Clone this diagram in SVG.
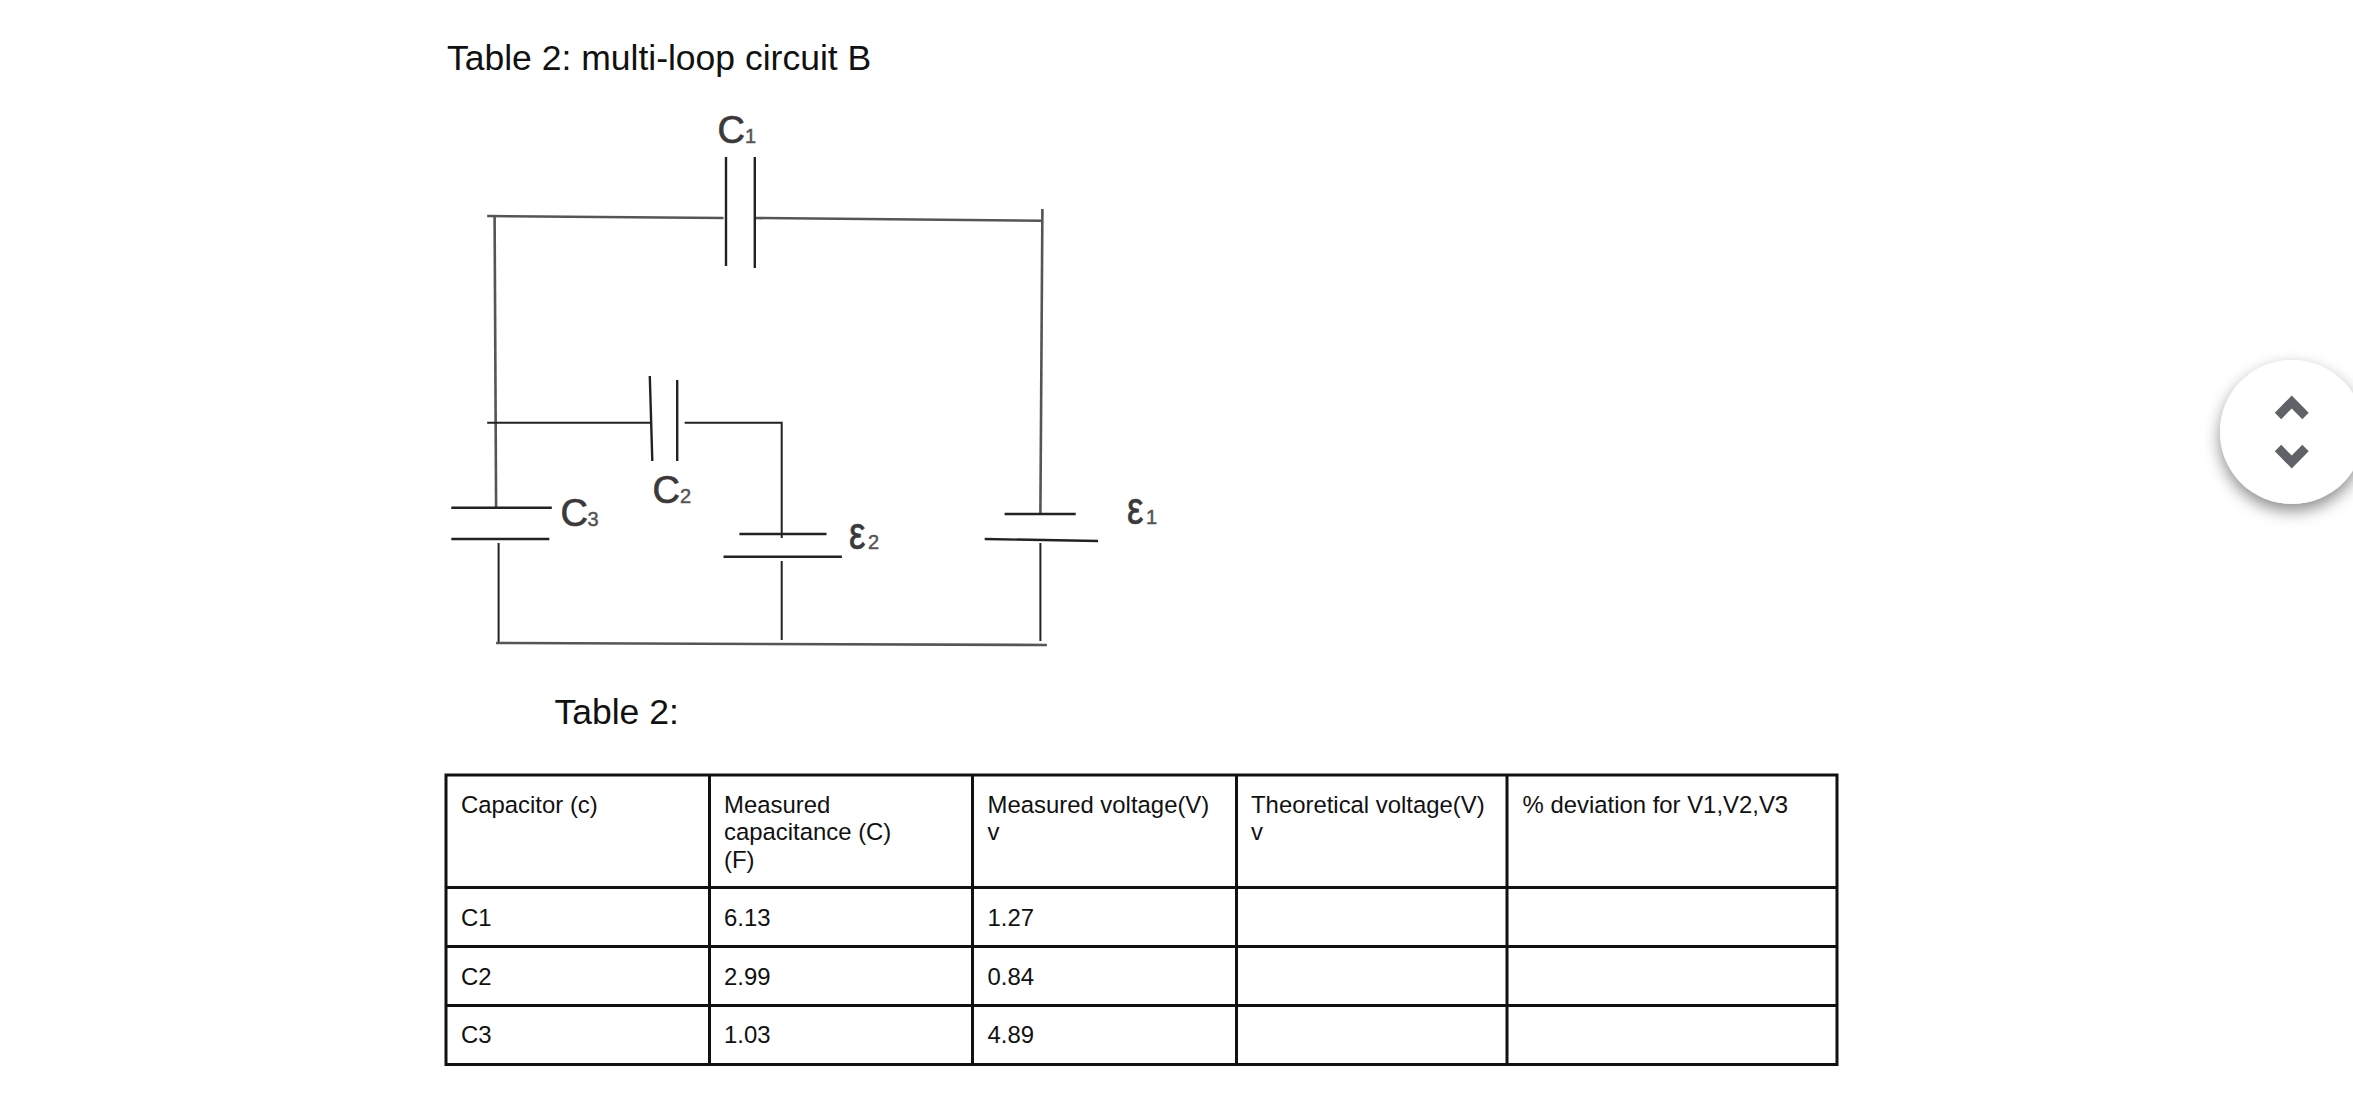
<svg xmlns="http://www.w3.org/2000/svg" width="2353" height="1114" viewBox="0 0 2353 1114">
<style>
text{font-family:"Liberation Sans",Arial,sans-serif;fill:#111}
.h{font-size:35.500px}
.t{font-size:23.900px}
.lb{font-size:38px;fill:#3a3a3a;stroke:#3a3a3a;stroke-width:.7}
.sub{font-size:20px;fill:#555;stroke:#555;stroke-width:.5}
.w{fill:none;stroke:#222;stroke-width:2;stroke-linecap:butt}
.wg{fill:none;stroke:#555;stroke-width:2.600}
.p{fill:none;stroke:#222;stroke-width:2.400}
.g{fill:none;stroke:#111;stroke-width:3}
.c{fill:none;stroke:#5f6368;stroke-width:9}
</style>
<defs>
<filter id="sh" x="-30%" y="-30%" width="160%" height="170%"><feDropShadow dx="0" dy="7" stdDeviation="8" flood-color="#000" flood-opacity="0.45"/></filter>
</defs>
<rect width="2353" height="1114" fill="#fff"/>
<text id="title" class="h" x="447" y="70">Table 2: multi-loop circuit B</text>
<g id="connectors">
<path class="wg" d="M487.200 216L723.500 218"/>
<path class="wg" d="M755.800 218L1041.900 220.700"/>
<path class="wg" d="M494.600 216L496.100 507"/>
<path class="wg" d="M1042.400 209L1040.400 513"/>
<path class="w" d="M487.200 422.700H651.300"/>
<path class="w" d="M684.700 422.700H781.700V538"/>
<path class="w" d="M498.600 543V643"/>
<path class="w" d="M781.700 561V640"/>
<path class="w" d="M1040.400 543V641"/>
<path class="wg" d="M496.100 643L1046.900 645"/>
</g>
<g id="C1">
<path class="p" d="M726 157V266M754.800 157V268"/>
<text class="lb" x="717.500" y="143">C</text><text class="sub" x="745" y="143">1</text>
</g>
<g id="C2">
<path class="p" d="M649.800 376L652.300 461M677.200 380V461"/>
<text class="lb" x="652.500" y="503">C</text><text class="sub" x="680" y="503">2</text>
</g>
<g id="C3">
<path class="p" d="M451.300 507.700H551.800M451.300 539H549.300"/>
<text class="lb" x="560.500" y="526">C</text><text class="sub" x="587.500" y="526">3</text>
</g>
<g id="E2">
<path class="p" d="M739.400 534H826.500M723.500 556.700H841.900"/>
<text class="lb" transform="translate(849 549) scale(0.8 1)" style="font-size:46px">ε</text><text class="sub" x="868" y="549">2</text>
</g>
<g id="E1">
<path class="p" d="M1004.600 514H1075.700M984.700 539L1098.100 541"/>
<text class="lb" transform="translate(1127 524) scale(0.8 1)" style="font-size:46px">ε</text><text class="sub" x="1146" y="524">1</text>
</g>
<text id="table-caption" class="h" x="554.500" y="724">Table 2:</text>
<g id="table">
<path class="g" d="M446 775H1837V1064.500H446ZM446 887.500H1837M446 946.500H1837M446 1005.500H1837M709.500 775V1064.500M972.500 775V1064.500M1236.500 775V1064.500M1507 775V1064.500"/>
<text class="t" x="461" y="813">Capacitor (c)</text>
<text class="t" x="724" y="813">Measured</text>
<text class="t" x="724" y="840">capacitance (C)</text>
<text class="t" x="724" y="867.500">(F)</text>
<text class="t" x="987.500" y="813">Measured voltage(V)</text>
<text class="t" x="987.500" y="840">v</text>
<text class="t" x="1251" y="813">Theoretical voltage(V)</text>
<text class="t" x="1251" y="840">v</text>
<text class="t" x="1522.500" y="813">% deviation for V1,V2,V3</text>
<text class="t" x="461" y="926">C1</text>
<text class="t" x="724" y="926">6.13</text>
<text class="t" x="987.500" y="926">1.27</text>
<text class="t" x="461" y="985">C2</text>
<text class="t" x="724" y="985">2.99</text>
<text class="t" x="987.500" y="985">0.84</text>
<text class="t" x="461" y="1043">C3</text>
<text class="t" x="724" y="1043">1.03</text>
<text class="t" x="987.500" y="1043">4.89</text>
</g>
<g id="scroll-button">
<circle cx="2292" cy="432" r="72" fill="#fff" filter="url(#sh)"/>
<path class="c" d="M2278 416L2291.700 402L2305.500 416"/>
<path class="c" d="M2278 448L2291.700 462L2305.500 448"/>
</g>
</svg>
